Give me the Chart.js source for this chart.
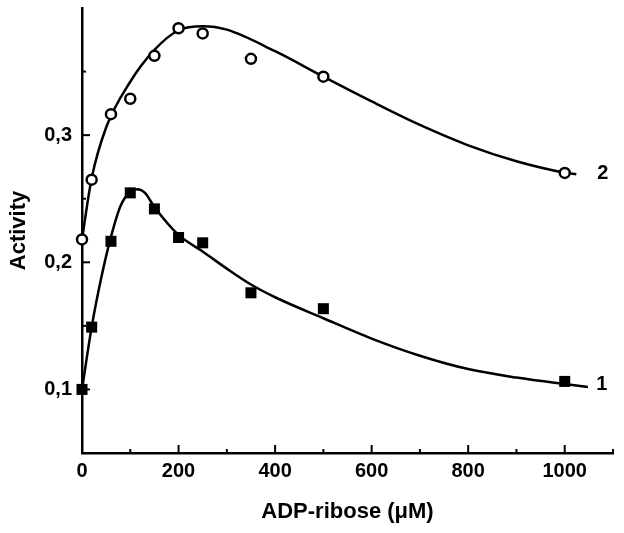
<!DOCTYPE html>
<html>
<head>
<meta charset="utf-8">
<script src="https://cdn.jsdelivr.net/npm/chart.js@4/dist/chart.umd.min.js"></script>
<style>
  body { margin: 0; background: #fff; }
  canvas { display: block; }
</style>
</head>
<body>
<canvas id="myChart" width="624" height="533"></canvas>
<script>
// measured points, ADP-ribose (uM) vs activity
var doseX = [0, 20, 60, 100, 150, 200, 250, 350, 500, 1000];
var series1 = [0.1, 0.149, 0.2165, 0.2546, 0.242, 0.2195, 0.2153, 0.176, 0.1635, 0.1063];
var series2 = [0.218, 0.265, 0.3165, 0.3286, 0.3624, 0.3841, 0.380, 0.360, 0.346, 0.2703];

// fitted curves
var fit1X = [0, 20, 40, 60, 80, 100, 115, 130, 150, 200, 250, 300, 350, 400, 500, 600, 700, 800, 900, 1000, 1048];
var fit1Y = [0.1, 0.149, 0.188, 0.22, 0.2445, 0.2555, 0.2575, 0.2548, 0.2435, 0.2215, 0.2085, 0.195, 0.1825, 0.1725, 0.156, 0.140, 0.1265, 0.116, 0.1093, 0.1042, 0.102];
var fit2X = [0, 20, 50, 100, 150, 200, 250, 300, 400, 500, 600, 700, 800, 900, 1000, 1024];
var fit2Y = [0.218, 0.266, 0.306, 0.342, 0.367, 0.3825, 0.3857, 0.383, 0.366, 0.346, 0.3265, 0.308, 0.292, 0.2795, 0.2705, 0.2693];

var xTicks = [0, 200, 400, 600, 800, 1000];
var xMinor = [100, 300, 500, 700, 900, 1100];
var yTicks = [0.1, 0.2, 0.3];
var yMinor = [0.15, 0.25, 0.35];

var curveLabels = [{text: '1', x: 1077, y: 0.104}, {text: '2', x: 1079, y: 0.27}];

function pts(xs, ys) {
  return xs.map((v, i) => ({x: v, y: ys[i]}));
}

var fontFam = "'Liberation Sans', Arial, sans-serif";

// ticks point inward in the original, so draw them by hand
const inwardTicks = {
  id: 'inwardTicks',
  afterDatasetsDraw(chart) {
    const {ctx, scales: {x, y}} = chart;
    ctx.save();
    ctx.strokeStyle = '#000';
    ctx.lineWidth = 2;
    const base = y.bottom, left = x.left;
    function seg(x1, y1, x2, y2) {
      ctx.beginPath(); ctx.moveTo(x1, y1); ctx.lineTo(x2, y2); ctx.stroke();
    }
    xTicks.forEach(v => { let p = x.getPixelForValue(v); seg(p, base, p, base - 8); });
    xMinor.forEach(v => { let p = x.getPixelForValue(v); seg(p, base, p, base - 4); });
    yTicks.forEach(v => { let p = y.getPixelForValue(v); seg(left, p, left + 8, p); });
    yMinor.forEach(v => { let p = y.getPixelForValue(v); seg(left, p, left + 4, p); });

    ctx.fillStyle = '#000';
    ctx.font = 'bold 20px ' + fontFam;
    ctx.textAlign = 'center';
    ctx.textBaseline = 'middle';
    curveLabels.forEach(l => {
      ctx.fillText(l.text, x.getPixelForValue(l.x), y.getPixelForValue(l.y));
    });
    ctx.restore();
  }
};

var myChart = new Chart(document.getElementById('myChart').getContext('2d'), {
  type: 'scatter',
  data: {
    datasets: [
      {
        label: '2',
        data: pts(doseX, series2),
        pointStyle: 'circle',
        pointRadius: 5,
        backgroundColor: '#fff',
        borderColor: '#000',
        borderWidth: 2.5,
        clip: false
      },
      {
        label: '1',
        data: pts(doseX, series1),
        pointStyle: 'rect',
        pointRadius: 7.8,
        backgroundColor: '#000',
        borderColor: '#000',
        borderWidth: 0,
        clip: false
      },
      {
        label: 'fit 2',
        data: pts(fit2X, fit2Y),
        showLine: true,
        pointRadius: 0,
        borderColor: '#000',
        borderWidth: 2.5,
        cubicInterpolationMode: 'monotone',
        clip: false
      },
      {
        label: 'fit 1',
        data: pts(fit1X, fit1Y),
        showLine: true,
        pointRadius: 0,
        borderColor: '#000',
        borderWidth: 2.5,
        cubicInterpolationMode: 'monotone',
        clip: false
      }
    ]
  },
  options: {
    responsive: false,
    animation: false,
    layout: { padding: { left: 0, right: 11, top: 8, bottom: 0 } },
    plugins: {
      legend: { display: false },
      tooltip: { enabled: false }
    },
    scales: {
      x: {
        type: 'linear',
        min: 0,
        max: 1100,
        afterBuildTicks: s => { s.ticks = xTicks.map(v => ({value: v})); },
        afterFit: s => { s.height = 80; s.paddingLeft = 0; s.paddingRight = 0; },
        grid: { display: false, drawTicks: false },
        border: { display: true, color: '#000', width: 2.5 },
        ticks: {
          color: '#000',
          padding: 6,
          maxRotation: 0,
          font: { family: fontFam, size: 20, weight: 'bold' },
          callback: v => String(v)
        },
        title: {
          display: true,
          text: 'ADP-ribose (\u03bcM)',
          color: '#000',
          padding: { top: 0, bottom: 8 },
          font: { family: fontFam, size: 22, weight: 'bold' }
        }
      },
      y: {
        type: 'linear',
        min: 0.05,
        max: 0.4,
        afterBuildTicks: s => { s.ticks = yTicks.map(v => ({value: v})); },
        afterFit: s => { s.width = 82; s.paddingTop = 0; s.paddingBottom = 0; },
        grid: { display: false, drawTicks: false },
        border: { display: true, color: '#000', width: 2.5 },
        ticks: {
          color: '#000',
          padding: 10,
          font: { family: fontFam, size: 20, weight: 'bold' },
          callback: v => v.toFixed(1).replace('.', ',')
        },
        title: {
          display: true,
          text: 'Activity',
          color: '#000',
          padding: { top: 6, bottom: 0 },
          font: { family: fontFam, size: 22, weight: 'bold' }
        }
      }
    }
  },
  plugins: [inwardTicks]
});
</script>
</body>
</html>
